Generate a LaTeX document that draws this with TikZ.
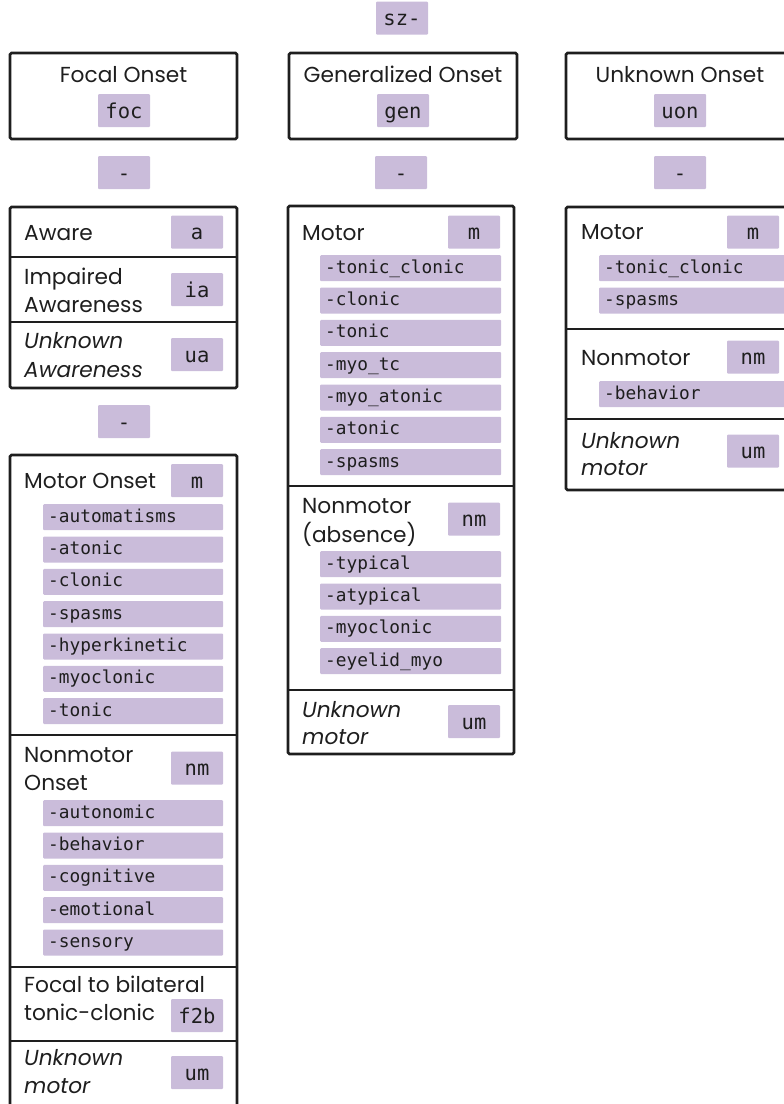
\documentclass[tikz,border=0pt]{standalone}
\usepackage{fontspec}
\setmainfont{Poppins}
\newfontfamily\monofam{DejaVu Sans Mono}
\definecolor{lav}{HTML}{CABCDA}
\definecolor{ink}{HTML}{1E1E1E}
\begin{document}
\begin{tikzpicture}[x=1pt,y=-1pt,
  frame/.style={draw=ink,line width=2.6pt,rounded corners=1.5pt},
  divider/.style={draw=ink,line width=2.6pt},
  tag/.style={fill=lav,rounded corners=1pt,inner sep=0pt,minimum width=52pt,minimum height=33pt,
    text height=15pt,text depth=0pt,font=\monofam\fontsize{20.5}{20.5}\selectfont,text=ink},
  item/.style={fill=lav,rounded corners=1pt,anchor=north west,inner xsep=5pt,inner ysep=0pt,
    minimum height=26pt,text height=18pt,text depth=8pt,align=left,
    font=\monofam\fontsize{17.8}{17.8}\selectfont,text=ink},
  lbl/.style={anchor=base west,inner sep=0pt,font=\fontsize{21.7}{21.7}\selectfont,text=ink},
  ilbl/.style={lbl,font=\fontsize{21.7}{21.7}\selectfont\itshape},
  hdr/.style={anchor=base,inner sep=0pt,font=\fontsize{21.7}{21.7}\selectfont,text=ink}
]
\useasboundingbox (0,0) rectangle (784,1104);
\clip (0,0) rectangle (784,1104);

% top
\node[tag] (sz) at (402,18) {sz-};

% headers
\draw[frame] (10,53) rectangle (237,139);
\node[hdr] (tF) at (123.5,82) {Focal Onset};
\node[tag] (foc) at (124,110.5) {foc};
\draw[frame] (289,53) rectangle (517,139);
\node[hdr] (tG) at (403,82) {Generalized Onset};
\node[tag] (gen) at (403,110.5) {gen};
\draw[frame] (566,53) rectangle (794,139);
\node[hdr] (tU) at (680,82) {Unknown Onset};
\node[tag] (uon) at (680,110.5) {uon};

\node[tag] (d1) at (124,172.5) {-};
\node[tag] (d2) at (401,172.5) {-};
\node[tag] (d3) at (680,172.5) {-};

% left awareness box
\draw[frame] (10,207) rectangle (237,388);
\draw[divider] (10,257) -- (237,257);
\draw[divider] (10,322) -- (237,322);
\node[lbl] (aw) at (24,240) {Aware};
\node[tag] (ta) at (197,232) {a};
\node[lbl] (ia1) at (24,284) {Impaired};
\node[lbl] (ia2) at (24,312) {Awareness};
\node[tag] (tia) at (197,289.5) {ia};
\node[ilbl] (ua1) at (24,348) {Unknown};
\node[ilbl] (ua2) at (24,377) {Awareness};
\node[tag] (tua) at (197,354.5) {ua};
\node[tag] (d4) at (124,421.5) {-};

% left main box
\draw[frame] (10,455) rectangle (237,1120);
\draw[divider] (10,735) -- (237,735);
\draw[divider] (10,967) -- (237,967);
\draw[divider] (10,1041) -- (237,1041);
\node[lbl] (fmo) at (24,488) {Motor Onset};
\node[tag] (fm) at (197,480.5) {m};
\foreach \t [count=\i from 0] in {automatisms,atonic,clonic,spasms,hyperkinetic,myoclonic,tonic}
  \node[item,text width=170pt] (fmi\i) at (43,504+32.33*\i) {-\t};
\node[lbl] (fnm1) at (24,762) {Nonmotor};
\node[lbl] (fnm2) at (24,790) {Onset};
\node[tag] (fnm) at (197,768) {nm};
\foreach \t [count=\i from 0] in {autonomic,behavior,cognitive,emotional,sensory}
  \node[item,text width=170pt] (fni\i) at (43,800+32.33*\i) {-\t};
\node[lbl] (f2b1) at (24,992) {Focal to bilateral};
\node[lbl] (f2b2) at (24,1020) {tonic-clonic};
\node[tag] (f2b) at (197,1015.5) {f2b};
\node[ilbl] (fum1) at (24,1065) {Unknown};
\node[ilbl] (fum2) at (24,1093) {motor};
\node[tag] (fum) at (197,1072.5) {um};

% middle main box
\draw[frame] (288,206) rectangle (514,754);
\draw[divider] (288,486) -- (514,486);
\draw[divider] (288,690) -- (514,690);
\node[lbl] (gmo) at (302,240) {Motor};
\node[tag] (gm) at (474,232) {m};
\foreach \t [count=\i from 0] in {tonic\_clonic,clonic,tonic,myo\_tc,myo\_atonic,atonic,spasms}
  \node[item,text width=171pt] (gmi\i) at (320,255+32.33*\i) {-\t};
\node[lbl] (gnm1) at (302,513) {Nonmotor};
\node[lbl] (gnm2) at (302,542) {(absence)};
\node[tag] (gnm) at (474,519) {nm};
\foreach \t [count=\i from 0] in {typical,atypical,myoclonic,eyelid\_myo}
  \node[item,text width=171pt] (gni\i) at (320,551+32.33*\i) {-\t};
\node[ilbl] (gum1) at (302,717) {Unknown};
\node[ilbl] (gum2) at (302,744) {motor};
\node[tag] (gum) at (474,721.5) {um};

% right main box
\draw[frame] (566,207) rectangle (794,490);
\draw[divider] (566,329) -- (794,329);
\draw[divider] (566,419) -- (794,419);
\node[lbl] (umo) at (581,239) {Motor};
\node[tag] (um) at (753,232) {m};
\foreach \t [count=\i from 0] in {tonic\_clonic,spasms}
  \node[item,text width=181pt] (umi\i) at (599,255+32.33*\i) {-\t};
\node[lbl] (unm1) at (581,365) {Nonmotor};
\node[tag] (unm) at (753,357) {nm};
\node[item,text width=181pt] (uni0) at (599,381) {-behavior};
\node[ilbl] (uum1) at (581,448) {Unknown};
\node[ilbl] (uum2) at (581,475) {motor};
\node[tag] (uum) at (753,451) {um};
\end{tikzpicture}
\end{document}
